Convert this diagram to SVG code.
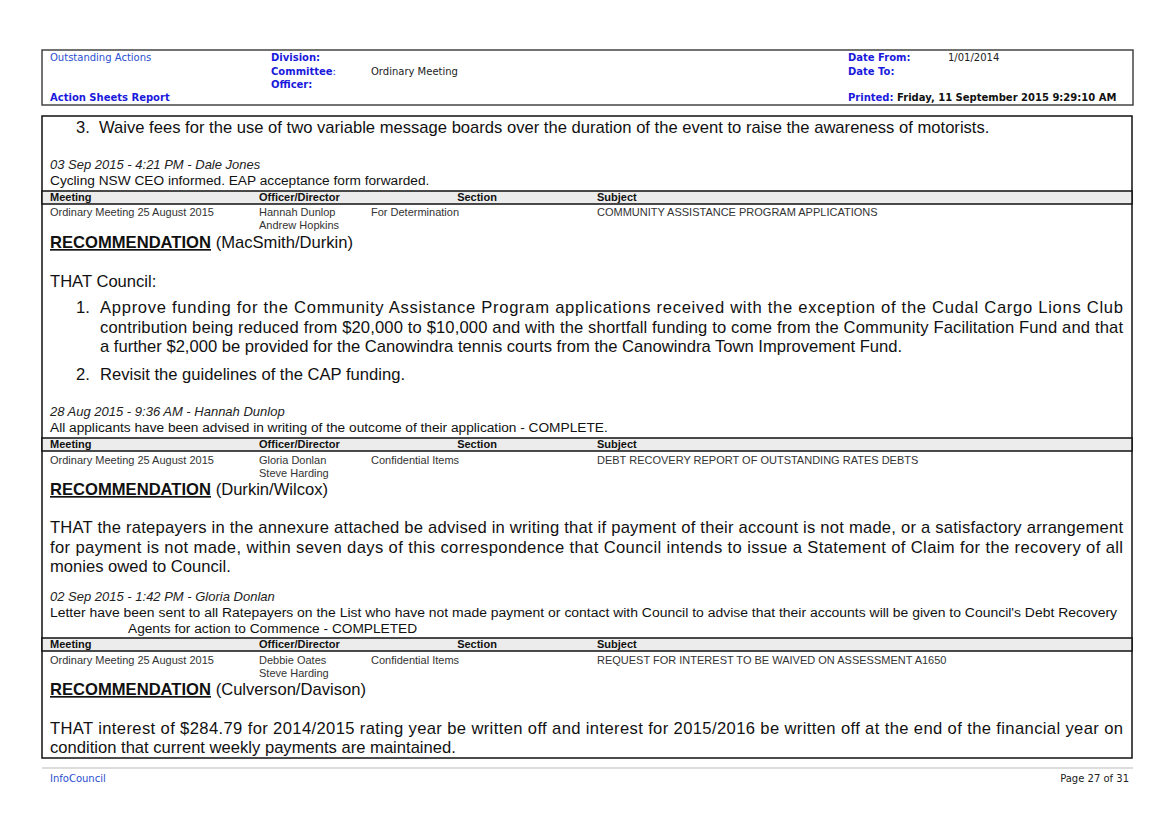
<svg xmlns="http://www.w3.org/2000/svg" width="1174" height="830" viewBox="0 0 1174 830">
<style>
.h{font-family:"DejaVu Sans",sans-serif;font-size:10px;fill:#222}
.hb{font-family:"DejaVu Sans",sans-serif;font-size:10px;font-weight:bold;fill:#1a1adc}
.hl{font-family:"DejaVu Sans",sans-serif;font-size:10px;fill:#2a4fd0}
.b{font-family:"Liberation Sans",Arial,sans-serif;font-size:16.6px;fill:#111}
.i{font-family:"Liberation Sans",Arial,sans-serif;font-size:13px;font-style:italic;fill:#222}
.n{font-family:"Liberation Sans",Arial,sans-serif;font-size:13.7px;fill:#111}
.th{font-family:"Liberation Sans",Arial,sans-serif;font-size:11px;font-weight:bold;fill:#111}
.td{font-family:"Liberation Sans",Arial,sans-serif;font-size:11px;fill:#333}
.rec{font-family:"Liberation Sans",Arial,sans-serif;font-size:16.6px;font-weight:bold;fill:#111;text-decoration:underline}
.band{fill:#ececec;stroke:#111;stroke-width:1.5}
</style>
<rect width="1174" height="830" fill="#fff"/>
<g id="header">
<rect x="42" y="50" width="1091" height="55" fill="none" stroke="#444" stroke-width="1.5"/>
<text class="hl" x="50" y="61">Outstanding Actions</text>
<text class="hb" x="50" y="101">Action Sheets Report</text>
<text class="hb" x="271" y="61">Division:</text>
<text class="hb" x="271" y="75">Committee<tspan font-weight="normal">:</tspan></text>
<text class="hb" x="271" y="88">Officer:</text>
<text class="h" x="371" y="75">Ordinary Meeting</text>
<text class="hb" x="848" y="61">Date From:</text>
<text class="h" x="948" y="61">1/01/2014</text>
<text class="hb" x="848" y="75">Date To:</text>
<text class="hb" x="848" y="101">Printed: <tspan fill="#111">Friday, 11 September 2015  9:29:10 AM</tspan></text>
</g>
<g id="body">
<rect x="42" y="116" width="1090" height="642" fill="none" stroke="#111" stroke-width="1.5"/>
<text class="b" x="76" y="133">3.</text>
<text class="b" x="99" y="133">Waive fees for the use of two variable message boards over the duration of the event to raise the awareness of motorists.</text>
<text class="i" x="50" y="169">03 Sep 2015 - 4:21 PM - Dale Jones</text>
<text class="n" x="50" y="185">Cycling NSW CEO informed. EAP acceptance form forwarded.</text>
<rect class="band" x="42" y="191" width="1090" height="13"/>
<text class="th" x="50" y="201">Meeting</text><text class="th" x="259" y="201">Officer/Director</text><text class="th" x="477" y="201" text-anchor="middle">Section</text><text class="th" x="597" y="201">Subject</text>
<text class="td" x="50" y="216">Ordinary Meeting 25 August 2015</text><text class="td" x="259" y="216">Hannah Dunlop</text><text class="td" x="259" y="229">Andrew Hopkins</text><text class="td" x="371" y="216">For Determination</text><text class="td" x="597" y="216">COMMUNITY ASSISTANCE PROGRAM APPLICATIONS</text>
<text class="b" x="50" y="248"><tspan class="rec">RECOMMENDATION</tspan> (MacSmith/Durkin)</text>
<text class="b" x="50" y="287">THAT Council:</text>
<text class="b" x="76" y="313">1.</text>
<text class="b" x="100" y="313" textLength="1023" lengthAdjust="spacing">Approve funding for the Community Assistance Program applications received with the exception of the Cudal Cargo Lions Club</text>
<text class="b" x="100" y="333" textLength="1023" lengthAdjust="spacing">contribution being reduced from $20,000 to $10,000 and with the shortfall funding to come from the Community Facilitation Fund and that</text>
<text class="b" x="100" y="352">a further $2,000 be provided for the Canowindra tennis courts from the Canowindra Town Improvement Fund.</text>
<text class="b" x="76" y="380">2.</text>
<text class="b" x="100" y="380">Revisit the guidelines of the CAP funding.</text>
<text class="i" x="50" y="416">28 Aug 2015 - 9:36 AM - Hannah Dunlop</text>
<text class="n" x="50" y="432">All applicants have been advised in writing of the outcome of their application - COMPLETE.</text>
<rect class="band" x="42" y="438" width="1090" height="13"/>
<text class="th" x="50" y="448">Meeting</text><text class="th" x="259" y="448">Officer/Director</text><text class="th" x="477" y="448" text-anchor="middle">Section</text><text class="th" x="597" y="448">Subject</text>
<text class="td" x="50" y="464">Ordinary Meeting 25 August 2015</text><text class="td" x="259" y="464">Gloria Donlan</text><text class="td" x="259" y="477">Steve Harding</text><text class="td" x="371" y="464">Confidential Items</text><text class="td" x="597" y="464">DEBT RECOVERY REPORT OF OUTSTANDING RATES DEBTS</text>
<text class="b" x="50" y="495"><tspan class="rec">RECOMMENDATION</tspan> (Durkin/Wilcox)</text>
<text class="b" x="50" y="533" textLength="1073" lengthAdjust="spacing">THAT the ratepayers in the annexure attached be advised in writing that if payment of their account is not made, or a satisfactory arrangement</text>
<text class="b" x="50" y="553" textLength="1073" lengthAdjust="spacing">for payment is not made, within seven days of this correspondence that Council intends to issue a Statement of Claim for the recovery of all</text>
<text class="b" x="50" y="572">monies owed to Council.</text>
<text class="i" x="50" y="601">02 Sep 2015 - 1:42 PM - Gloria Donlan</text>
<text class="n" x="50" y="617" textLength="1067" lengthAdjust="spacingAndGlyphs">Letter have been sent to all Ratepayers on the List who have not made payment or contact with Council to advise that their accounts will be given to Council's Debt Recovery</text>
<text class="n" x="128" y="633">Agents for action to Commence  - COMPLETED</text>
<rect class="band" x="42" y="638" width="1090" height="13"/>
<text class="th" x="50" y="648">Meeting</text><text class="th" x="259" y="648">Officer/Director</text><text class="th" x="477" y="648" text-anchor="middle">Section</text><text class="th" x="597" y="648">Subject</text>
<text class="td" x="50" y="664">Ordinary Meeting 25 August 2015</text><text class="td" x="259" y="664">Debbie Oates</text><text class="td" x="259" y="677">Steve Harding</text><text class="td" x="371" y="664">Confidential Items</text><text class="td" x="597" y="664">REQUEST FOR INTEREST TO BE WAIVED ON ASSESSMENT A1650</text>
<text class="b" x="50" y="695"><tspan class="rec">RECOMMENDATION</tspan> (Culverson/Davison)</text>
<text class="b" x="50" y="734" textLength="1073" lengthAdjust="spacing">THAT interest of $284.79 for 2014/2015 rating year be written off and interest for 2015/2016 be written off at the end of the financial year on</text>
<text class="b" x="50" y="753">condition that current weekly payments are maintained.</text>
</g>
<g id="footer">
<line x1="42" y1="768" x2="1133" y2="768" stroke="#bbb" stroke-width="1"/>
<text class="hl" x="50" y="782">InfoCouncil</text>
<text class="h" x="1129" y="782" text-anchor="end" fill="#333">Page 27 of 31</text>
</g>
</svg>
